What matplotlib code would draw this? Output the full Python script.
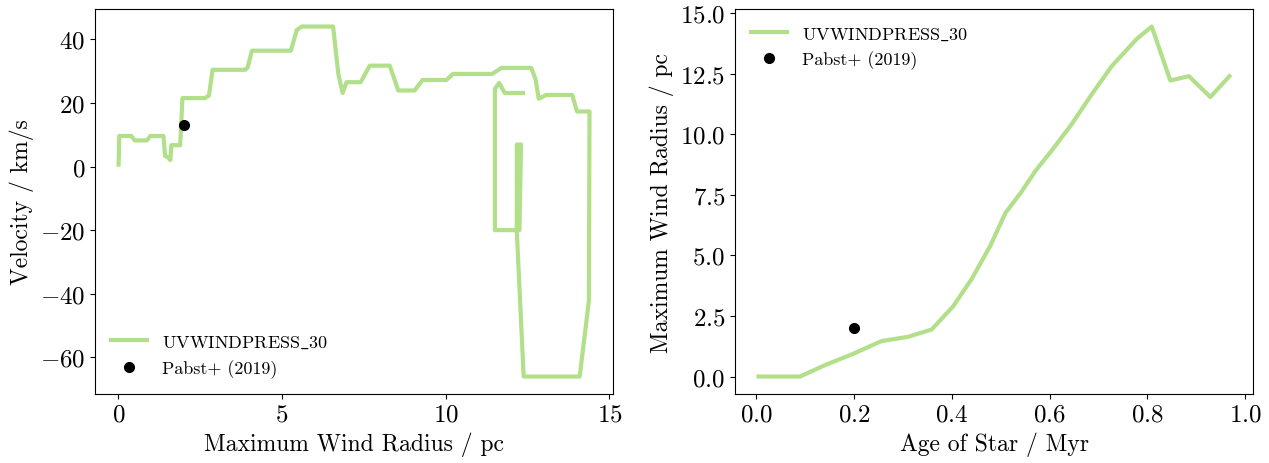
import matplotlib
matplotlib.use('Agg')
import matplotlib.pyplot as plt

plt.rcParams['font.family'] = 'serif'
plt.rcParams['font.serif'] = ['cmr10']
plt.rcParams['mathtext.fontset'] = 'cm'
plt.rcParams['axes.formatter.use_mathtext'] = True

# velocity vs wind radius (left panel)
radius = [0.01, 0.03, 0.4, 0.5, 0.87, 0.98, 1.38, 1.43, 1.51, 1.59, 1.62, 1.89, 1.96,
          2.65, 2.77, 2.88, 3.87, 3.95, 4.08, 5.27, 5.45, 5.6, 6.56, 6.72, 6.85, 6.97,
          7.4, 7.68, 8.29, 8.55, 9.05, 9.29, 10.02, 10.22, 11.42, 11.7, 12.61, 12.74,
          12.84, 13.07, 13.86, 14.01, 14.39, 14.37, 14.09, 12.38, 12.17, 12.17, 12.3,
          12.25, 11.5, 11.5, 11.63, 11.8, 12.36]
velocity = [0.6, 9.6, 9.6, 8.2, 8.2, 9.6, 9.6, 3.3, 3.0, 2.0, 6.7, 6.7, 21.5,
            21.5, 22.3, 30.4, 30.4, 31.1, 36.4, 36.4, 42.9, 44.0, 44.0, 29.1, 23.1, 26.5,
            26.5, 31.7, 31.7, 23.9, 23.9, 27.2, 27.2, 29.1, 29.1, 31.0, 31.0, 27.5,
            21.3, 22.5, 22.5, 17.3, 17.3, -42.3, -66.0, -66.0, -20.4, 6.9, 6.9,
            -20.0, -20.0, 24.4, 26.3, 23.1, 23.1]

# wind radius vs age (right panel)
age = [0.005, 0.09, 0.142, 0.2, 0.256, 0.311, 0.359, 0.403, 0.441, 0.479, 0.51,
       0.541, 0.572, 0.603, 0.644, 0.685, 0.727, 0.778, 0.809, 0.847, 0.885, 0.929, 0.968]
max_radius = [0.0, 0.0, 0.48, 0.95, 1.46, 1.64, 1.94, 2.9, 4.03, 5.4, 6.76,
              7.58, 8.51, 9.29, 10.38, 11.61, 12.81, 13.93, 14.45, 12.22, 12.4, 11.54, 12.4]

# observation point
obs_radius, obs_velocity = 2.0, 13.0
obs_age, obs_radius2 = 0.2, 2.0

left_xticks = [0, 5, 10, 15]
right_xticks = [0.0, 0.2, 0.4, 0.6, 0.8, 1.0]
right_yticks = [0.0, 2.5, 5.0, 7.5, 10.0, 12.5, 15.0]

line_color = '#b2df8a'
label_run = r'UVWINDPRESS$\_$30'
label_obs = 'Pabst+ (2019)'

fig = plt.figure(figsize=(12.69, 4.64), dpi=100)
ax1 = fig.add_axes([0.0749, 0.1487, 0.4082, 0.8297])
ax2 = fig.add_axes([0.5792, 0.1487, 0.4082, 0.8297])

ax1.plot(radius, velocity, color=line_color, lw=3, label=label_run)
ax1.plot([obs_radius], [obs_velocity], 'o', color='black', ms=7, label=label_obs)
ax1.set_xticks(left_xticks)
ax1.set_xlabel('Maximum Wind Radius / pc', fontsize=17)
ax1.set_ylabel('Velocity / km/s', fontsize=17)
ax1.legend(loc='lower left', frameon=False, fontsize=13)

ax2.plot(age, max_radius, color=line_color, lw=3, label=label_run)
ax2.plot([obs_age], [obs_radius2], 'o', color='black', ms=7, label=label_obs)
ax2.set_xticks(right_xticks)
ax2.set_yticks(right_yticks)
ax2.set_xlabel('Age of Star / Myr', fontsize=17)
ax2.set_ylabel('Maximum Wind Radius / pc', fontsize=17)
ax2.legend(loc='upper left', frameon=False, fontsize=13)

for ax in (ax1, ax2):
    ax.tick_params(labelsize=18)

fig.savefig('out.png', dpi=100)
